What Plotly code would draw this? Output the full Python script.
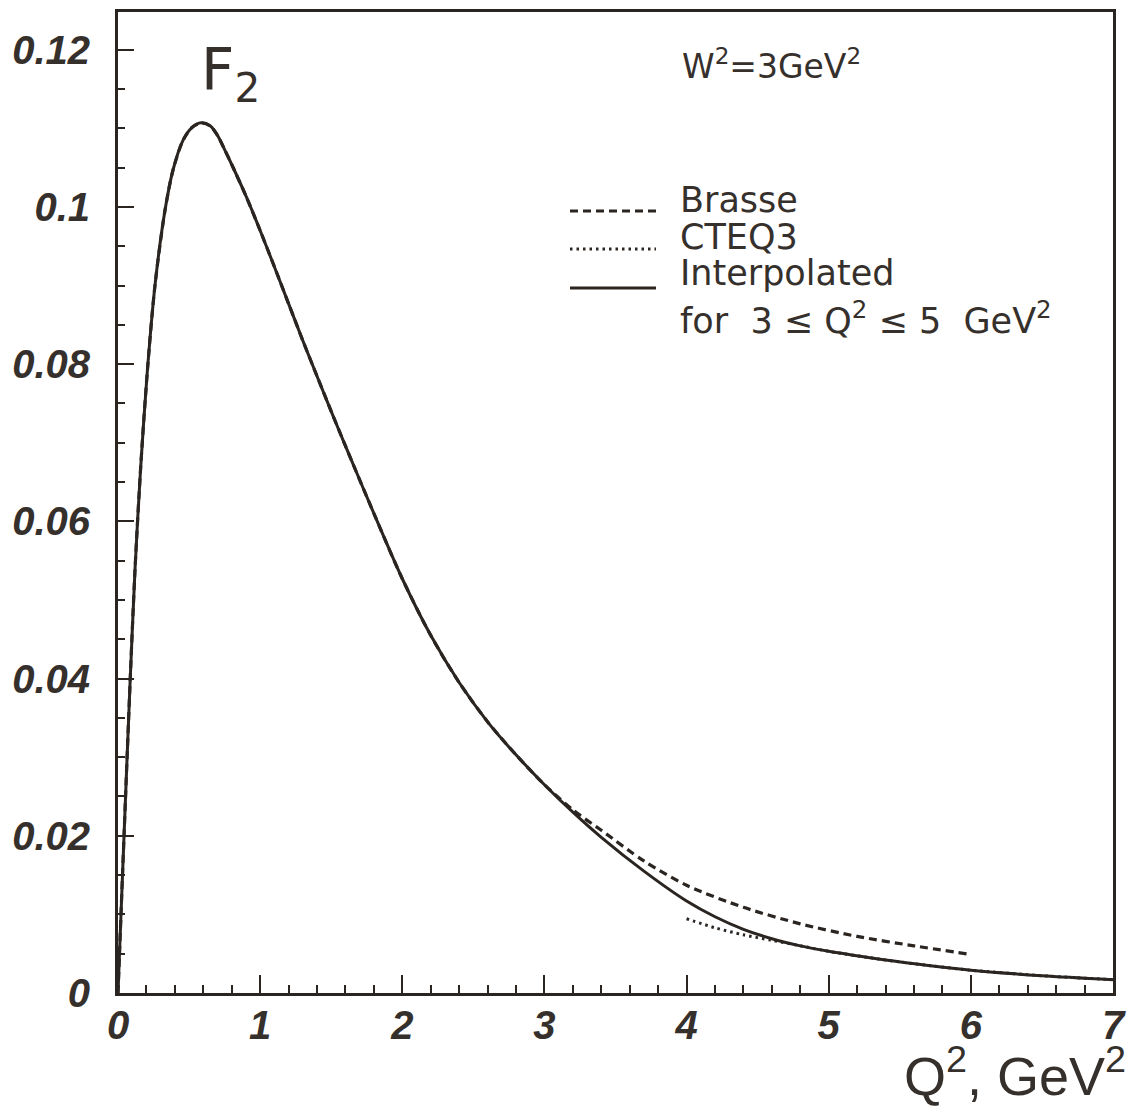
import plotly.graph_objects as go

# ---- data ----
# Interpolated curve (solid): F2 vs Q^2 at W^2 = 3 GeV^2
q2_interp = [0, 0.02, 0.042, 0.085, 0.12, 0.16, 0.206, 0.26, 0.33, 0.387, 0.458, 0.52,
             0.585, 0.65, 0.70, 0.75, 0.80, 0.90, 1.0, 1.1, 1.2, 1.3, 1.373, 1.5, 1.6,
             1.845, 2.0, 2.2, 2.4, 2.6, 2.8, 3.0, 3.2, 3.4, 3.7, 4.0, 4.2, 4.4, 4.6, 4.8,
             5.0, 5.4, 5.7, 6.0, 6.5, 7.0]
f2_interp = [0, 0.0095, 0.0198, 0.0395, 0.0540, 0.0670, 0.0790, 0.0900, 0.0995, 0.1047,
             0.1085, 0.1101, 0.1107, 0.1103, 0.1091, 0.1073, 0.1054, 0.1014, 0.0970, 0.0924,
             0.0877, 0.0830, 0.0797, 0.0740, 0.0696, 0.0591, 0.0527, 0.0455, 0.0395, 0.0345,
             0.0303, 0.0265, 0.0230, 0.0198, 0.0155, 0.0117, 0.0097, 0.0081, 0.0069, 0.0060,
             0.0053, 0.0042, 0.0035, 0.0029, 0.0022, 0.0017]

# Brasse parametrisation (dashed), 0 .. 6
q2_brasse = [0, 0.02, 0.042, 0.085, 0.12, 0.16, 0.206, 0.26, 0.33, 0.387, 0.458, 0.52,
             0.585, 0.65, 0.70, 0.75, 0.80, 0.90, 1.0, 1.1, 1.2, 1.3, 1.373, 1.5, 1.6,
             1.845, 2.0, 2.2, 2.4, 2.6, 2.8, 3.0, 3.2, 3.4, 3.7, 4.0, 4.4, 4.8, 5.2, 5.6, 6.0]
f2_brasse = [0, 0.0095, 0.0198, 0.0395, 0.0540, 0.0670, 0.0790, 0.0900, 0.0995, 0.1047,
             0.1085, 0.1101, 0.1107, 0.1103, 0.1091, 0.1073, 0.1054, 0.1014, 0.0970, 0.0924,
             0.0877, 0.0830, 0.0797, 0.0740, 0.0696, 0.0591, 0.0527, 0.0455, 0.0395, 0.0345,
             0.0303, 0.0265, 0.0233, 0.0207, 0.0168, 0.0137, 0.0109, 0.0088, 0.0072, 0.0060,
             0.0049]

# CTEQ3 (dotted), 4 .. 7
q2_cteq = [4.0, 4.2, 4.4, 4.6, 4.8, 5.0, 5.4, 5.7, 6.0, 6.5, 7.0]
f2_cteq = [0.00945, 0.0083, 0.0074, 0.0067, 0.0060, 0.0053, 0.0042, 0.0035, 0.0029,
           0.0022, 0.0017]

x_ticks = [0, 1, 2, 3, 4, 5, 6, 7]
x_ticktext = ["0", "1", "2", "3", "4", "5", "6", "7"]
y_ticks = [0, 0.02, 0.04, 0.06, 0.08, 0.10, 0.12]
y_ticktext = ["0", "0.02", "0.04", "0.06", "0.08", "0.1", "0.12"]

legend_names = ["Brasse", "CTEQ3", "Interpolated"]
legend_extra = "for  3 ≤ Q<sup>2</sup> ≤ 5  GeV<sup>2</sup>"

# ---- styling ----
INK = "#2b2521"
TXT = "#36302c"
OFF = 8                       # default page (body) margin of the html page
W, H = 1139 - OFF, 1108 - OFF
L, R, T, B = 110, 26, 4, 115
PW, PH = W - L - R, H - T - B


def px(xp):                   # page pixel -> paper coordinate
    return (xp - OFF - L) / PW


def py(yp):
    return (H - B - (yp - OFF)) / PH


fig = go.Figure()
fig.add_trace(go.Scatter(x=q2_brasse, y=f2_brasse, mode="lines", name="Brasse",
                         line=dict(color=INK, width=3.2, dash="8px,5px", shape="spline",
                                   smoothing=0.8)))
fig.add_trace(go.Scatter(x=q2_cteq, y=f2_cteq, mode="lines", name="CTEQ3",
                         line=dict(color=INK, width=3, dash="2.5px,4px", shape="spline",
                                   smoothing=0.8)))
fig.add_trace(go.Scatter(x=q2_interp, y=f2_interp, mode="lines", name="Interpolated",
                         line=dict(color=INK, width=3, shape="spline", smoothing=0.8)))

tickfont = dict(family="Liberation Sans", size=40, weight="bold", style="italic", color=TXT)

fig.update_xaxes(range=[0, 7], tickvals=x_ticks, ticktext=x_ticktext, ticks="inside",
                 ticklen=18, tickwidth=2.2, tickcolor=INK, showline=True, linewidth=3,
                 linecolor=INK, mirror=True, showgrid=False, zeroline=False,
                 tickfont=tickfont, ticklabelstandoff=-5, automargin=False,
                 minor=dict(dtick=0.2, ticks="inside", ticklen=8, tickwidth=2,
                            tickcolor=INK, showgrid=False))
fig.update_yaxes(range=[0, 0.1248], tickvals=y_ticks, ticktext=y_ticktext, ticks="inside",
                 ticklen=16, tickwidth=2.2, tickcolor=INK, showline=True, linewidth=3,
                 linecolor=INK, mirror=True, showgrid=False, zeroline=False,
                 tickfont=tickfont, ticklabelstandoff=17, automargin=False,
                 minor=dict(dtick=0.005, ticks="inside", ticklen=7, tickwidth=2,
                            tickcolor=INK, showgrid=False))

# legend drawn by hand (long line samples as in the original)
samples = [("8px,5px", 3.2, 211), ("2.5px,4px", 3, 249), ("solid", 3, 288)]
for (dash, wd, yy) in samples:
    fig.add_shape(type="line", xref="paper", yref="paper", x0=px(570), x1=px(656),
                  y0=py(yy), y1=py(yy), line=dict(color=INK, width=wd, dash=dash))

legfont = dict(family="DejaVu Sans", size=35, color=TXT)
text_rows = [(legend_names[0], 200), (legend_names[1], 237), (legend_names[2], 273),
             (legend_extra, 318)]
for (txt, yy) in text_rows:
    fig.add_annotation(text=txt, xref="paper", yref="paper", x=px(678), y=py(yy),
                       xanchor="left", yanchor="middle", showarrow=False, font=legfont)

fig.add_annotation(text="F<sub>2</sub>", xref="paper", yref="paper", x=px(199), y=py(74),
                   xanchor="left", yanchor="middle", showarrow=False,
                   font=dict(family="DejaVu Sans", size=58, color=TXT))
fig.add_annotation(text="W<sup>2</sup>=3GeV<sup>2</sup>", xref="paper", yref="paper",
                   x=px(680), y=py(64), xanchor="left", yanchor="middle", showarrow=False,
                   font=dict(family="DejaVu Sans", size=33, color=TXT))
fig.add_annotation(text="Q<sup>2</sup>, GeV<sup>2</sup>", xref="paper", yref="paper",
                   x=px(1128), y=py(1072), xanchor="right", yanchor="middle",
                   showarrow=False, font=dict(family="Liberation Sans", size=54, color=TXT))

fig.update_layout(width=W, height=H, margin=dict(l=L, r=R, t=T, b=B),
                  paper_bgcolor="white", plot_bgcolor="white", showlegend=False)

fig.write_html("out.html")
